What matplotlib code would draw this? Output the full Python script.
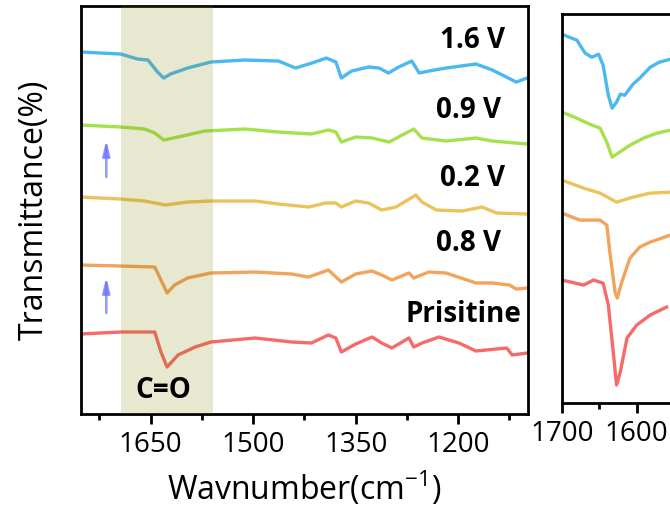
import matplotlib
matplotlib.use("Agg")
import matplotlib.pyplot as plt
from matplotlib.ticker import MultipleLocator

plt.rcParams['font.family'] = ['Open Sans', 'DejaVu Sans']
plt.rcParams['mathtext.default'] = 'regular'

# FTIR spectra, full range (offset transmittance, a.u.)
wn_16 = [1752, 1694, 1669, 1654, 1640, 1631, 1621, 1596, 1562, 1512, 1463, 1438, 1414, 1393,
         1379, 1371, 1356, 1331, 1316, 1302, 1287, 1268, 1257, 1243, 1218, 1174, 1150, 1115, 1099]
t_16 = [362, 360, 355, 354, 342, 336, 340, 346, 352, 354, 353, 346, 351, 356,
        352, 336, 343, 347, 346, 341, 347, 353, 341, 343, 346, 350, 344, 332, 336]

wn_09 = [1753, 1694, 1659, 1644, 1631, 1610, 1571, 1512, 1463, 1415, 1390, 1379, 1371, 1350,
         1326, 1301, 1282, 1265, 1253, 1218, 1174, 1150, 1099]
t_09 = [289, 287, 285, 281, 274, 277, 283, 285, 282, 280, 284, 282, 272, 277,
        276, 272, 279, 285, 276, 273, 276, 273, 270]

wn_02 = [1753, 1694, 1659, 1628, 1596, 1562, 1497, 1463, 1419, 1394, 1379, 1371, 1350, 1331,
         1312, 1291, 1262, 1253, 1232, 1194, 1165, 1144, 1099]
t_02 = [217, 215, 213, 209, 212, 213, 213, 210, 207, 211, 211, 207, 213, 211,
        204, 207, 219, 212, 204, 203, 207, 201, 200]

wn_08 = [1753, 1694, 1644, 1635, 1626, 1615, 1596, 1562, 1497, 1444, 1419, 1390, 1371, 1350,
         1326, 1312, 1297, 1272, 1265, 1243, 1218, 1174, 1150, 1125, 1115, 1099]
t_08 = [149, 148, 147, 134, 121, 129, 136, 141, 142, 140, 137, 144, 132, 140,
        143, 139, 134, 141, 136, 142, 141, 131, 131, 129, 125, 126]

wn_pr = [1753, 1694, 1644, 1635, 1626, 1610, 1585, 1562, 1497, 1444, 1415, 1390, 1379, 1371,
         1350, 1326, 1312, 1297, 1272, 1265, 1253, 1228, 1199, 1174, 1129, 1121, 1099]
t_pr = [80, 82, 82, 62, 47, 59, 67, 72, 76, 72, 71, 79, 76, 62,
        70, 77, 71, 66, 76, 67, 71, 77, 71, 63, 66, 59, 61]

# C=O region, zoomed
zwn_16 = [1700, 1680, 1669, 1660, 1651, 1645, 1638, 1633, 1627, 1622, 1616, 1605, 1596, 1582, 1570, 1555]
zt_16 = [380, 374, 361, 357, 360, 349, 319, 306, 312, 320, 319, 330, 336, 347, 352, 355]
zwn_09 = [1700, 1680, 1663, 1649, 1640, 1633, 1625, 1609, 1591, 1573, 1555]
zt_09 = [302, 296, 290, 286, 272, 257, 261, 269, 276, 281, 284]
zwn_02 = [1700, 1671, 1649, 1627, 1605, 1582, 1555]
zt_02 = [234, 226, 221, 212, 217, 221, 222]
zwn_08 = [1700, 1676, 1649, 1640, 1636, 1629, 1626, 1620, 1609, 1596, 1582, 1555]
zt_08 = [201, 194, 194, 189, 162, 122, 116, 132, 156, 167, 172, 179]
zwn_pr = [1700, 1671, 1658, 1645, 1638, 1631, 1627, 1622, 1613, 1600, 1582, 1560]
zt_pr = [134, 129, 134, 131, 109, 59, 29, 42, 76, 89, 99, 107]

labels = ['1.6 V', '0.9 V', '0.2 V', '0.8 V', 'Prisitine']
colors = ['#4cb8f2', '#a4e24c', '#ebc35c', '#f2a35c', '#f66a6a']
label_wn = [1132, 1137, 1132, 1137, 1107]
label_t = [374, 304, 236, 171, 100]

full = [(wn_16, t_16), (wn_09, t_09), (wn_02, t_02), (wn_08, t_08), (wn_pr, t_pr)]
zoom = [(zwn_16, zt_16), (zwn_09, zt_09), (zwn_02, zt_02), (zwn_08, zt_08), (zwn_pr, zt_pr)]

fig = plt.figure(figsize=(6.7, 5.15), dpi=100)
ax = fig.add_axes([0.1209, 0.1961, 0.667, 0.7922])
ax2 = fig.add_axes([0.8388, 0.2175, 0.2175, 0.7548])

for (x, y), c in zip(full, colors):
    ax.plot(x, y, color=c, lw=2.4, solid_joinstyle='round')
for lab, xw, yt in zip(labels, label_wn, label_t):
    ax.text(xw, yt, lab, ha='right', va='center', fontsize=20, fontweight='bold')

ax.axvspan(1693, 1559, color='olive', alpha=0.18, lw=0, zorder=3)
ax.text(1631, 24, 'C=O', ha='center', va='center', fontsize=20, fontweight='bold', zorder=4)

for tail, tip in [(237, 274), (101, 137)]:
    ax.annotate('', xy=(1715, tip), xytext=(1715, tail),
                arrowprops=dict(arrowstyle='-|>,head_width=0.22,head_length=0.9',
                                color='#6f78ff', lw=1.8, alpha=0.75, shrinkA=0, shrinkB=0))

ax.set_xlim(1752, 1098)
ax.set_ylim(0, 408)
ax.xaxis.set_major_locator(MultipleLocator(150))
ax.xaxis.set_minor_locator(MultipleLocator(75))
ax.set_yticks([])
ax.set_xlabel('Wavnumber(cm$^{-1}$)', fontsize=23, labelpad=8)
ax.set_ylabel('Transmittance(%)', fontsize=23, labelpad=22)

for (x, y), c in zip(zoom, colors):
    ax2.plot(x, y, color=c, lw=2.4, solid_joinstyle='round')
ax2.set_xlim(1700, 1505)
ax2.set_ylim(11, 400)
ax2.xaxis.set_major_locator(MultipleLocator(100))
ax2.xaxis.set_minor_locator(MultipleLocator(50))
ax2.set_yticks([])

for a in (ax, ax2):
    for s in a.spines.values():
        s.set_linewidth(2)
    a.tick_params(axis='x', which='major', direction='out', length=7, width=2,
                  labelsize=20, pad=5)
    a.tick_params(axis='x', which='minor', direction='out', length=4, width=2)

fig.savefig('out.png', dpi=100)
